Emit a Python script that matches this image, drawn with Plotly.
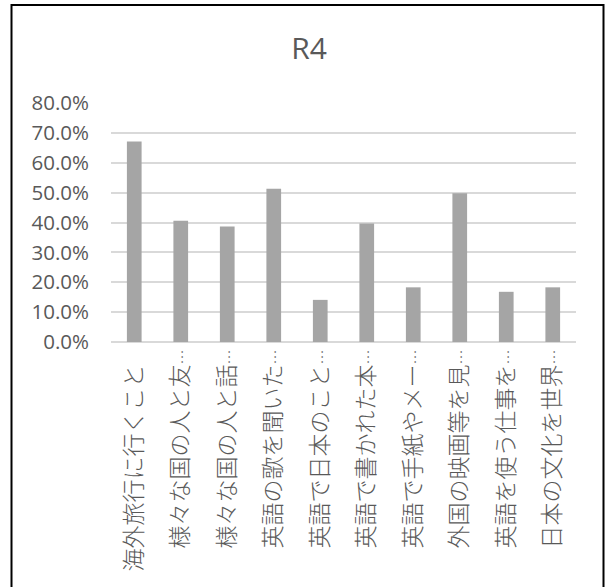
import plotly.graph_objects as go

# Survey items (labels truncated as shown on the axis)
categories = [
    "海外旅行に行くこと",
    "様々な国の人と友…",
    "様々な国の人と話…",
    "英語の歌を聞いた…",
    "英語で日本のこと…",
    "英語で書かれた本…",
    "英語で手紙やメー…",
    "外国の映画等を見…",
    "英語を使う仕事を…",
    "日本の文化を世界…",
]
values = [0.671, 0.406, 0.387, 0.513, 0.141, 0.397, 0.183, 0.498, 0.168, 0.183]
y_ticks = [0.0, 0.1, 0.2, 0.3, 0.4, 0.5, 0.6, 0.7, 0.8]

W, H = 606, 587
L, R, T, B = 111, 30, 103, 245
pw, ph = W - L - R, H - T - B

TEXT = "#595959"
ELLIPSIS = "…"


def tick_label(name):
    # the ellipsis is set smaller; untruncated names get an invisible one so
    # every label starts the same distance below the axis
    if name.endswith(ELLIPSIS):
        return name[:-1] + '<span style="font-size:15px">…</span>'
    return name + '<span style="font-size:15px;fill:rgba(0,0,0,0)">…</span>'


fig = go.Figure(
    go.Bar(
        x=categories,
        y=values,
        marker=dict(color="#A5A5A5", line=dict(width=0)),
        hoverinfo="x+y",
    )
)


def px_x(px):
    return (px - L) / pw


def px_y(py):
    return (H - B - py) / ph


fig.update_layout(
    width=W,
    height=H,
    margin=dict(l=L, r=R, t=T, b=B, pad=0, autoexpand=False),
    paper_bgcolor="white",
    plot_bgcolor="white",
    bargap=0.684,
    showlegend=False,
    title=dict(
        text="R4",
        x=309 / W,
        xanchor="center",
        xref="container",
        y=1 - 48 / H,
        yref="container",
        yanchor="middle",
        font=dict(family="Open Sans, Noto Sans", size=30, color=TEXT),
    ),
    xaxis=dict(
        type="category",
        tickmode="array",
        tickvals=categories,
        ticktext=[tick_label(c) for c in categories],
        tickangle=-90,
        tickfont=dict(family="Noto Sans CJK JP", size=23, color=TEXT, weight=300),
        showgrid=False,
        showline=False,
        ticks="",
        ticklabelstandoff=2,
        automargin=False,
    ),
    yaxis=dict(
        range=[0, 0.8],
        tickvals=y_ticks,
        tickformat=".1%",
        tickfont=dict(family="Open Sans, Noto Sans", size=20.5, color=TEXT),
        showgrid=True,
        gridcolor="#D9D9D9",
        gridwidth=1.5,
        zeroline=True,
        zerolinecolor="#D9D9D9",
        zerolinewidth=1.5,
        showline=False,
        ticks="",
        ticklabelstandoff=21,
        automargin=False,
    ),
    shapes=[
        dict(
            type="rect",
            xref="paper",
            yref="paper",
            x0=px_x(11.5),
            x1=px_x(603.5),
            y0=px_y(592),
            y1=px_y(5),
            line=dict(color="black", width=2),
            fillcolor="rgba(0,0,0,0)",
            layer="above",
        )
    ],
)

fig.write_html("out.html")
